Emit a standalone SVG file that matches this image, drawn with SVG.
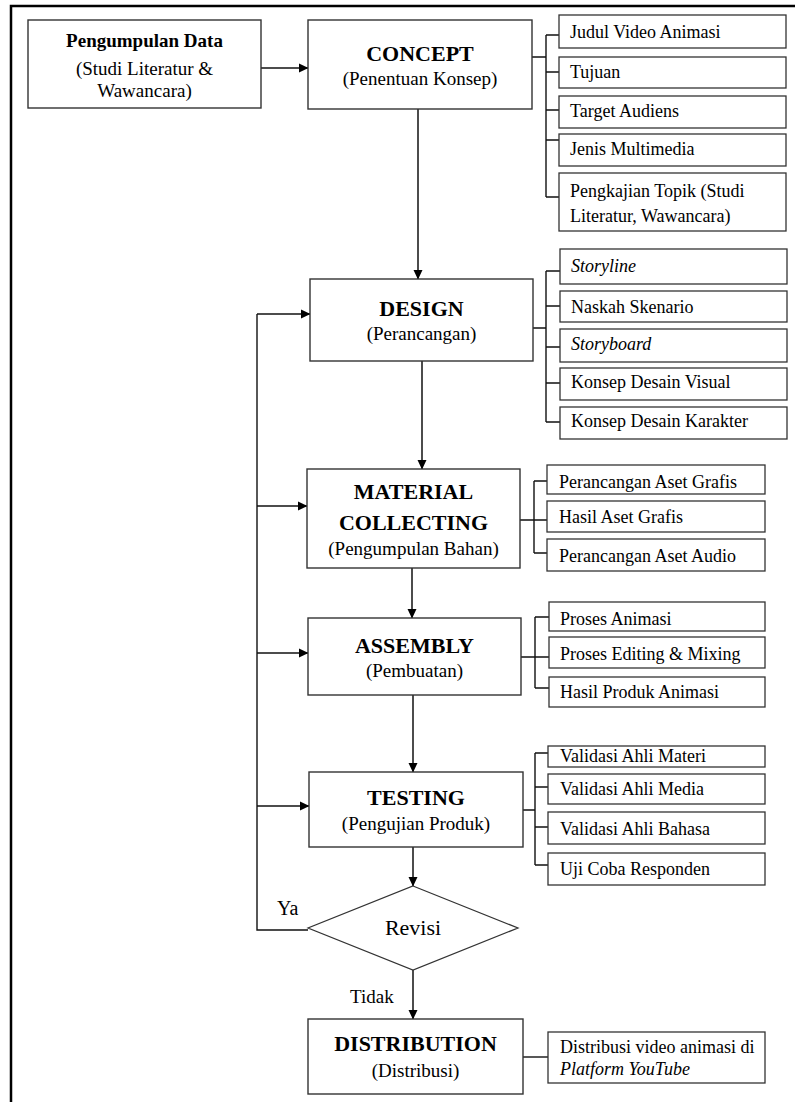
<svg xmlns="http://www.w3.org/2000/svg" width="795" height="1102" viewBox="0 0 795 1102">
<defs>
<marker id="ah" markerWidth="10" markerHeight="10" refX="9" refY="5" orient="auto" markerUnits="userSpaceOnUse">
<path d="M0,0.5 L9.5,5 L0,9.5 Z" fill="#000"/>
</marker>
<style>
.frame{fill:none;stroke:#000;stroke-width:2.5}
.main{fill:#fff;stroke:#333;stroke-width:1.4}
.side{fill:#fff;stroke:#333;stroke-width:1.3}
.ln{fill:none;stroke:#111;stroke-width:1.4}
.arr{fill:none;stroke:#111;stroke-width:1.5;marker-end:url(#ah)}
.t{font-size:22px;font-weight:bold;text-anchor:middle}
.s{font-size:19px;text-anchor:middle}
.b{font-size:19px;font-weight:bold;text-anchor:middle}
.x{font-size:18px}
.i{font-style:italic}
</style>
</defs>
<rect width="795" height="1102" fill="#fff"/>
<path class="frame" d="M11,1102 V6 H795"/>

<g id="connectors">
<line class="arr" x1="261" y1="68" x2="308" y2="68"/>
<line class="arr" x1="418" y1="109" x2="418" y2="279"/>
<line class="arr" x1="422" y1="361" x2="422" y2="469"/>
<line class="arr" x1="412" y1="568" x2="412" y2="618"/>
<line class="arr" x1="413" y1="695" x2="413" y2="772"/>
<line class="arr" x1="413" y1="847" x2="413" y2="886"/>
<line class="arr" x1="413" y1="970" x2="413" y2="1019"/>
<path class="ln" d="M308,930 H257 V314"/>
<line class="arr" x1="257" y1="314" x2="310" y2="314"/>
<line class="arr" x1="257" y1="506" x2="307" y2="506"/>
<line class="arr" x1="257" y1="653" x2="308" y2="653"/>
<line class="arr" x1="257" y1="806" x2="309" y2="806"/>
<path class="ln" d="M532,57 H546 M546,35 V197 M546,35 H559 M546,72 H559 M546,110 H559 M546,140 H559 M546,197 H559"/>
<path class="ln" d="M533,328 H546 M546,271 V422 M546,271 H560 M546,306 H560 M546,347 H560 M546,383 H560 M546,422 H560"/>
<path class="ln" d="M520,520 H547 M534,481 V553 M534,481 H547 M534,553 H547"/>
<path class="ln" d="M521,657 H549 M535,617 V688 M535,617 H549 M535,688 H549"/>
<path class="ln" d="M523,810 H535 M535,753 V865 M535,753 H548 M535,787 H548 M535,827 H548 M535,865 H548"/>
<line class="ln" x1="523" y1="1057" x2="548" y2="1057"/>
</g>

<g font-family="'Liberation Serif', 'Times New Roman', serif" fill="#000">
<g id="pengumpulan">
<rect class="main" x="28" y="20" width="233" height="88"/>
<text class="b" x="144.5" y="47">Pengumpulan Data</text>
<text class="s" x="144.5" y="75">(Studi Literatur &amp;</text>
<text class="s" x="144.5" y="97">Wawancara)</text>
</g>

<g id="concept">
<rect class="main" x="308" y="20" width="224" height="89"/>
<text class="t" x="420" y="61">CONCEPT</text>
<text class="s" x="420" y="85">(Penentuan Konsep)</text>
</g>
<g id="concept-items">
<rect class="side" x="559" y="15" width="227" height="33"/>
<text class="x" x="570" y="38">Judul Video Animasi</text>
<rect class="side" x="559" y="57" width="227" height="31"/>
<text class="x" x="570" y="78">Tujuan</text>
<rect class="side" x="559" y="96" width="227" height="32"/>
<text class="x" x="570" y="117">Target Audiens</text>
<rect class="side" x="559" y="134" width="227" height="32"/>
<text class="x" x="570" y="155">Jenis Multimedia</text>
<rect class="side" x="559" y="173" width="227" height="58"/>
<text class="x" x="570" y="197">Pengkajian Topik (Studi</text>
<text class="x" x="570" y="222">Literatur, Wawancara)</text>
</g>

<g id="design">
<rect class="main" x="310" y="279" width="223" height="82"/>
<text class="t" x="421.5" y="316">DESIGN</text>
<text class="s" x="421.5" y="340">(Perancangan)</text>
</g>
<g id="design-items">
<rect class="side" x="560" y="249" width="227" height="35"/>
<text class="x i" x="571" y="272">Storyline</text>
<rect class="side" x="560" y="291" width="227" height="31"/>
<text class="x" x="571" y="313">Naskah Skenario</text>
<rect class="side" x="560" y="329" width="227" height="33"/>
<text class="x i" x="571" y="350">Storyboard</text>
<rect class="side" x="560" y="368" width="227" height="32"/>
<text class="x" x="571" y="388">Konsep Desain Visual</text>
<rect class="side" x="560" y="407" width="227" height="32"/>
<text class="x" x="571" y="427">Konsep Desain Karakter</text>
</g>

<g id="material">
<rect class="main" x="307" y="469" width="213" height="99"/>
<text class="t" x="413.5" y="499">MATERIAL</text>
<text class="t" x="413.5" y="530">COLLECTING</text>
<text class="s" x="413.5" y="555">(Pengumpulan Bahan)</text>
</g>
<g id="material-items">
<rect class="side" x="547" y="465" width="218" height="29"/>
<text class="x" x="559" y="488">Perancangan Aset Grafis</text>
<rect class="side" x="547" y="501" width="218" height="31"/>
<text class="x" x="559" y="523">Hasil Aset Grafis</text>
<rect class="side" x="547" y="539" width="218" height="32"/>
<text class="x" x="559" y="562">Perancangan Aset Audio</text>
</g>

<g id="assembly">
<rect class="main" x="308" y="618" width="213" height="77"/>
<text class="t" x="414.5" y="653">ASSEMBLY</text>
<text class="s" x="414.5" y="677">(Pembuatan)</text>
</g>
<g id="assembly-items">
<rect class="side" x="549" y="602" width="216" height="29"/>
<text class="x" x="560" y="625">Proses Animasi</text>
<rect class="side" x="549" y="637" width="216" height="31"/>
<text class="x" x="560" y="660">Proses Editing &amp; Mixing</text>
<rect class="side" x="549" y="677" width="216" height="30"/>
<text class="x" x="560" y="698">Hasil Produk Animasi</text>
</g>

<g id="testing">
<rect class="main" x="309" y="772" width="214" height="75"/>
<text class="t" x="416" y="805">TESTING</text>
<text class="s" x="416" y="830">(Pengujian Produk)</text>
</g>
<g id="testing-items">
<rect class="side" x="548" y="746" width="217" height="21"/>
<text class="x" x="560" y="762">Validasi Ahli Materi</text>
<rect class="side" x="548" y="774" width="217" height="30"/>
<text class="x" x="560" y="795">Validasi Ahli Media</text>
<rect class="side" x="548" y="812" width="217" height="32"/>
<text class="x" x="560" y="835">Validasi Ahli Bahasa</text>
<rect class="side" x="548" y="853" width="217" height="32"/>
<text class="x" x="560" y="875">Uji Coba Responden</text>
</g>

<g id="revisi">
<polygon class="main" points="413,886 518,928 413,970 308,928" style="stroke-width:1.2"/>
<text x="413" y="935" font-size="22" text-anchor="middle">Revisi</text>
</g>
<text x="277" y="915" font-size="20">Ya</text>
<text x="350" y="1003" font-size="19">Tidak</text>

<g id="distribution">
<rect class="main" x="308" y="1019" width="215" height="75"/>
<text class="t" x="415.5" y="1051">DISTRIBUTION</text>
<text class="s" x="415.5" y="1077">(Distribusi)</text>
</g>
<g id="distribution-items">
<rect class="side" x="548" y="1032" width="217" height="51"/>
<text class="x" x="560" y="1053">Distribusi video animasi di</text>
<text class="x i" x="560" y="1075">Platform YouTube</text>
</g>
</g>
</svg>
